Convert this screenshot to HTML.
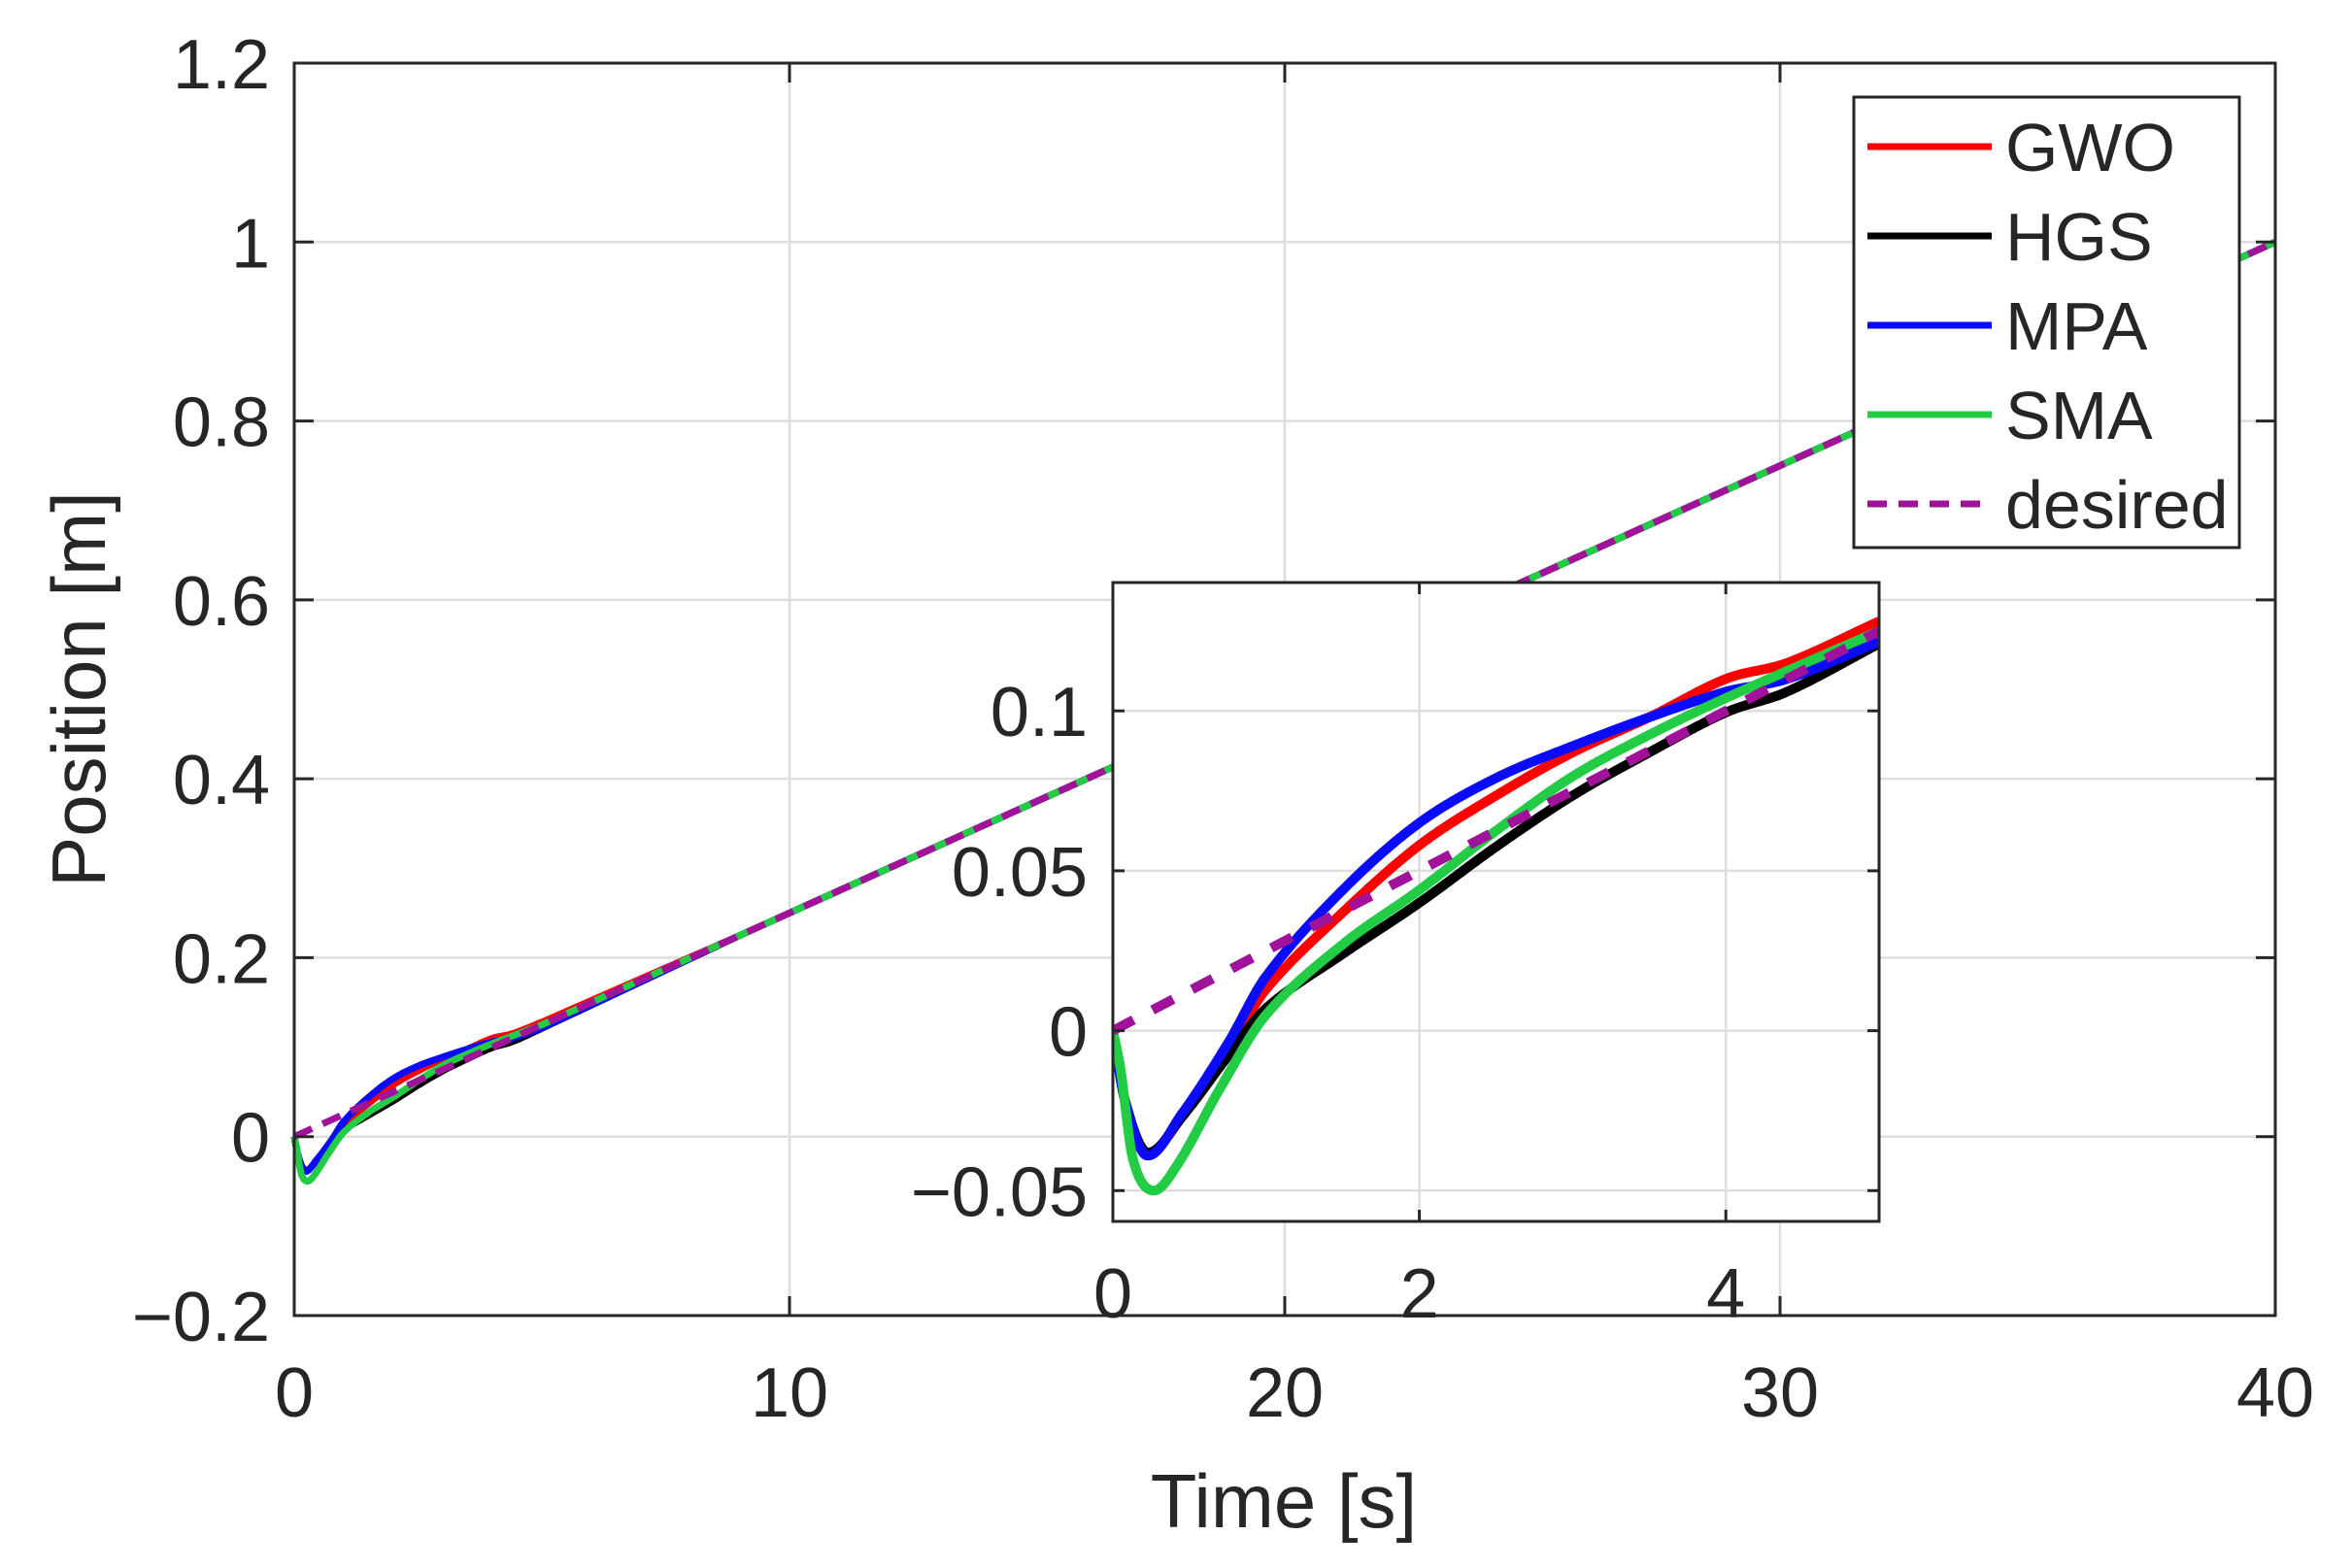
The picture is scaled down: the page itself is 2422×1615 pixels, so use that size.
<!DOCTYPE html>
<html><head><meta charset="utf-8"><style>
html,body{margin:0;padding:0;background:#fff;}
svg{display:block;}
text{font-family:"Liberation Sans",sans-serif;fill:#262626;}
</style></head><body>
<svg id="s" width="2422" height="1615" xmlns="http://www.w3.org/2000/svg"></svg>
<script>
const S=document.getElementById('s');let h='';
const X0=303,X1=2343,Y0=65,Y1=1355;
const mx=t=>X0+(t/40)*(X1-X0), my=v=>Y1-(v+0.2)/1.4*(Y1-Y0);
h+=`<rect x="${X0}" y="${Y0}" width="${X1-X0}" height="${Y1-Y0}" fill="#fff"/>`;
for(let t=10;t<40;t+=10)h+=`<line x1="${mx(t)}" y1="${Y0}" x2="${mx(t)}" y2="${Y1}" stroke="#dedede" stroke-width="2.5"/>`;
for(let k=1;k<7;k++){const v=-0.2+k*0.2;h+=`<line x1="${X0}" y1="${my(v)}" x2="${X1}" y2="${my(v)}" stroke="#dedede" stroke-width="2.5"/>`;}
function cr(P,t){ if(t<=P[0][0])return P[0][1]; for(let i=0;i<P.length-1;i++){if(t<=P[i+1][0]){const p0=P[Math.max(0,i-1)],p1=P[i],p2=P[i+1],p3=P[Math.min(P.length-1,i+2)];const u=(t-p1[0])/(p2[0]-p1[0]);const dt=p2[0]-p1[0];const m1=(p2[1]-p0[1])/(p2[0]-p0[0])*dt,m2=(p3[1]-p1[1])/(p3[0]-p1[0])*dt;const u2=u*u,u3=u2*u;return (2*u3-3*u2+1)*p1[1]+(u3-2*u2+u)*m1+(-2*u3+3*u2)*p2[1]+(u3-u2)*m2;}}return P[P.length-1][1];}
function mk(P){return t=>{if(t<=5)return cr(P,t);const e=P[P.length-1][1]-0.125;const f=Math.max(0,1-(t-5)/4);return t/40+e*f;};}
const red=mk([[0,0],[0.08,-0.022],[0.22,-0.038],[0.45,-0.027],[0.75,-0.006],[1,0.013],[1.5,0.037],[2,0.058],[2.5,0.0735],[3,0.087],[3.5,0.098],[4,0.110],[4.4,0.115],[5,0.128]]);
const blk=mk([[0,0],[0.08,-0.022],[0.22,-0.038],[0.45,-0.027],[0.75,-0.008],[1,0.007],[1.5,0.024],[2,0.040],[2.5,0.0575],[3,0.0735],[3.5,0.087],[4,0.0995],[4.4,0.106],[5,0.121]]);
const blu=mk([[0,0],[0.08,-0.022],[0.22,-0.039],[0.45,-0.026],[0.75,-0.004],[1,0.017],[1.5,0.044],[2,0.065],[2.5,0.079],[3,0.089],[3.5,0.098],[4,0.106],[4.4,0.110],[5,0.1216]]);
const grn=mk([[0,0],[0.05,-0.012],[0.13,-0.04],[0.26,-0.05],[0.42,-0.042],[0.7,-0.018],[1,0.005],[1.5,0.027],[2,0.044],[2.5,0.0625],[3,0.0795],[3.5,0.0925],[4,0.104],[5,0.125]]);
const des=t=>t/40;
function path(f,fx,fy,t0,t1,n){let d='';for(let i=0;i<=n;i++){const t=t0+(t1-t0)*i/n;d+=(i?'L':'M')+fx(t).toFixed(1)+','+fy(f(t)).toFixed(1);}return d;}
const series=[[red,'#ff0000'],[blk,'#000000'],[blu,'#0a0aff'],[grn,'#22cc44']];
for(const [f,c] of series)h+=`<path d="${path(f,mx,my,0,40,800)}" fill="none" stroke="${c}" stroke-width="7" stroke-linejoin="round"/>`;
h+=`<path d="${path(des,mx,my,0,40,10)}" fill="none" stroke="#a0129a" stroke-width="7" stroke-dasharray="20,12"/>`;
h+=`<rect x="${X0}" y="${Y0}" width="${X1-X0}" height="${Y1-Y0}" fill="none" stroke="#262626" stroke-width="3"/>`;
for(let t=0;t<=40;t+=10){const x=mx(t);h+=`<line x1="${x}" y1="${Y1}" x2="${x}" y2="${Y1-20}" stroke="#262626" stroke-width="3"/><line x1="${x}" y1="${Y0}" x2="${x}" y2="${Y0+20}" stroke="#262626" stroke-width="3"/>`;h+=`<text x="${x}" y="1459" font-size="72" text-anchor="middle">${t}</text>`;}
const yl=['\u22120.2','0','0.2','0.4','0.6','0.8','1','1.2'];
for(let k=0;k<8;k++){const v=-0.2+k*0.2,y=my(v);h+=`<line x1="${X0}" y1="${y}" x2="${X0+20}" y2="${y}" stroke="#262626" stroke-width="3"/><line x1="${X1}" y1="${y}" x2="${X1-20}" y2="${y}" stroke="#262626" stroke-width="3"/>`;h+=`<text x="278" y="${y+26}" font-size="72" text-anchor="end">${yl[k]}</text>`;}
h+=`<text x="1322" y="1573" font-size="78" text-anchor="middle">Time [s]</text>`;
h+=`<text transform="translate(108,710) rotate(-90)" font-size="78" text-anchor="middle">Position [m]</text>`;
const A0=1146,A1=1935,B0=600,B1=1258;
const ix=t=>A0+t/5*(A1-A0), iy=v=>1061.6-v*3294;
h+=`<rect x="${A0}" y="${B0}" width="${A1-A0}" height="${B1-B0}" fill="#fff"/>`;
h+=`<defs><clipPath id="c"><rect x="${A0}" y="${B0}" width="${A1-A0}" height="${B1-B0}"/></clipPath></defs>`;
for(const t of [2,4])h+=`<line x1="${ix(t)}" y1="${B0}" x2="${ix(t)}" y2="${B1}" stroke="#dedede" stroke-width="2.5"/>`;
for(const v of [-0.05,0,0.05,0.1])h+=`<line x1="${A0}" y1="${iy(v)}" x2="${A1}" y2="${iy(v)}" stroke="#dedede" stroke-width="2.5"/>`;
h+='<g clip-path="url(#c)">';
for(const [f,c] of series)h+=`<path d="${path(f,ix,iy,0,5,500)}" fill="none" stroke="${c}" stroke-width="10" stroke-linejoin="round"/>`;
h+=`<path d="${path(des,ix,iy,0,5,5)}" fill="none" stroke="#a0129a" stroke-width="10" stroke-dasharray="24,22"/>`;
h+='</g>';
h+=`<rect x="${A0}" y="${B0}" width="${A1-A0}" height="${B1-B0}" fill="none" stroke="#262626" stroke-width="3"/>`;
for(const t of [0,2,4]){const x=ix(t);h+=`<line x1="${x}" y1="${B1}" x2="${x}" y2="${B1-12}" stroke="#262626" stroke-width="3"/><line x1="${x}" y1="${B0}" x2="${x}" y2="${B0+12}" stroke="#262626" stroke-width="3"/><text x="${x}" y="1357" font-size="72" text-anchor="middle">${t}</text>`;}
const il=[[-0.05,'\u22120.05'],[0,'0'],[0.05,'0.05'],[0.1,'0.1']];
for(const [v,s] of il){const y=iy(v);h+=`<line x1="${A0}" y1="${y}" x2="${A0+12}" y2="${y}" stroke="#262626" stroke-width="3"/><line x1="${A1}" y1="${y}" x2="${A1-12}" y2="${y}" stroke="#262626" stroke-width="3"/><text x="1120" y="${y+26}" font-size="72" text-anchor="end">${s}</text>`;}
h+=`<rect x="1909" y="100" width="397" height="464" fill="#fff" stroke="#262626" stroke-width="3"/>`;
const lg=[['GWO','#ff0000',0],['HGS','#000000',0],['MPA','#0a0aff',0],['SMA','#22cc44',0],['desired','#a0129a',1]];
lg.forEach((e,i)=>{const y=151+i*92;h+=`<line x1="1923" y1="${y}" x2="2051" y2="${y}" stroke="${e[1]}" stroke-width="7" ${e[2]?'stroke-dasharray="20,12"':''}/><text x="2065" y="${y+25}" font-size="70">${e[0]}</text>`;});
S.innerHTML=h;
</script>
</body></html>
